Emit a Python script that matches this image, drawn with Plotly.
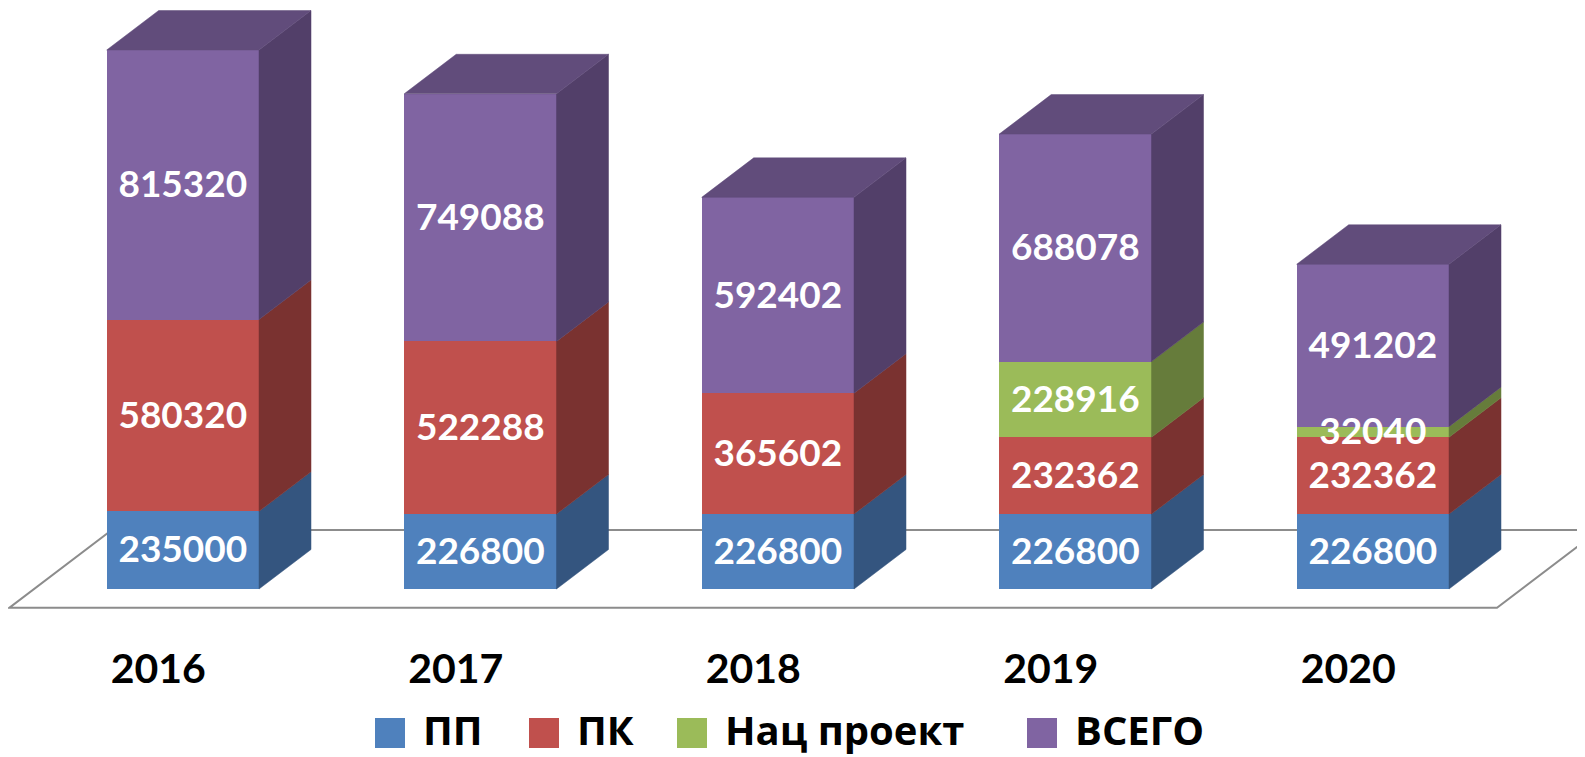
import plotly.graph_objects as go

# ---- data ----
years = ["2016", "2017", "2018", "2019", "2020"]
series_names = ["ПП", "ПК", "Нац проект", "ВСЕГО"]
pp = [235000, 226800, 226800, 226800, 226800]
pk = [580320, 522288, 365602, 232362, 232362]
nac = [0, 0, 0, 228916, 32040]
vsego = [815320, 749088, 592402, 688078, 491202]

front_colors = ["#4F81BD", "#C0504D", "#9BBB59", "#8064A2"]
side_colors = ["#34557F", "#7A3230", "#667C3B", "#523F69"]
top_color = "#614C7B"

# ---- page / projection geometry (layout, not data) ----
PAGE_OFF = 8                 # default body margin of the html page
W, H = 1585 - PAGE_OFF, 757 - PAGE_OFF
PX_PER_X = 297.5
UNITS_PER_PX = 1630640 / 539.0
X0_PX, Y0_PX = 182.85 - PAGE_OFF, 589.0 - PAGE_OFF
x_range = [-X0_PX / PX_PER_X, (W - X0_PX) / PX_PER_X]
y_range = [(Y0_PX - H) * UNITS_PER_PX, Y0_PX * UNITS_PER_PX]
DX = 52.0 / PX_PER_X          # depth offset in x units
DY = 39.5 * UNITS_PER_PX      # depth offset in y units
HW = 0.256                    # half width of the bar front
Z_FRONT, Z_BACK = -0.473, 1.494


def pxp(page_x):
    return (page_x - PAGE_OFF) / W


def pyp(page_y):
    return 1 - (page_y - PAGE_OFF) / H


series = [pp, pk, nac, vsego]
xs = list(range(len(years)))

fig = go.Figure()

# floor
fl = [(-0.5 + Z_FRONT * DX, Z_FRONT * DY), (4.5 + Z_FRONT * DX, Z_FRONT * DY),
      (4.5 + Z_BACK * DX, Z_BACK * DY), (-0.5 + Z_BACK * DX, Z_BACK * DY)]
path = "M " + " L ".join(f"{px},{py}" for px, py in fl) + " Z"
fig.add_shape(type="path", path=path, xref="x", yref="y", layer="below",
              fillcolor="white", line=dict(color="#8C8C8C", width=2))

# front faces as stacked bars
for name, vals, col in zip(series_names, series, front_colors):
    fig.add_trace(go.Bar(x=xs, y=vals, name=name, marker=dict(color=col, line=dict(width=0)),
                         width=2 * HW, hoverinfo="skip", showlegend=False))

# side faces
bases = [0] * len(years)
seg_bounds = []
for k, vals in enumerate(series):
    sx, sy = [], []
    bnds = []
    for i in xs:
        b = bases[i]
        t = b + vals[i]
        bnds.append((b, t))
        if vals[i] > 0:
            xr = i + HW
            sx += [xr, xr + DX, xr + DX, xr, xr, None]
            sy += [b, b + DY, t + DY, t, b, None]
        bases[i] = t
    seg_bounds.append(bnds)
    fig.add_trace(go.Scatter(x=sx, y=sy, fill="toself", mode="lines",
                             fillcolor=side_colors[k], line=dict(color=side_colors[k], width=0.5),
                             showlegend=False, hoverinfo="skip"))

# top faces
tx, ty = [], []
for i in xs:
    T = bases[i]
    tx += [i - HW, i - HW + DX, i + HW + DX, i + HW, i - HW, None]
    ty += [T, T + DY, T + DY, T, T, None]
fig.add_trace(go.Scatter(x=tx, y=ty, fill="toself", mode="lines", fillcolor=top_color,
                         line=dict(color=top_color, width=0.5), showlegend=False, hoverinfo="skip"))

# data labels
LABEL_SHIFT = 3 * UNITS_PER_PX
for k, vals in enumerate(series):
    lx, ly, lt = [], [], []
    for i in xs:
        if vals[i] > 0:
            b, t = seg_bounds[k][i]
            lx.append(i)
            ly.append((b + t) / 2 - LABEL_SHIFT)
            lt.append(str(vals[i]))
    fig.add_trace(go.Scatter(x=lx, y=ly, text=lt, mode="text", textposition="middle center",
                             textfont=dict(family="Lato", size=37, color="white", weight="bold"),
                             showlegend=False, hoverinfo="skip", cliponaxis=False))

# category labels
label_y = (Y0_PX - (673 - PAGE_OFF)) * UNITS_PER_PX
fig.add_trace(go.Scatter(x=[i + Z_FRONT * DX for i in xs], y=[label_y] * len(xs), text=years,
                         mode="text", textposition="middle center",
                         textfont=dict(family="Lato", size=41, color="black", weight="bold"),
                         showlegend=False, hoverinfo="skip", cliponaxis=False))

# legend (squares + text)
sq_left = [375, 529, 677, 1027]
SQ = 30
for name, col, xl in zip(series_names, front_colors, sq_left):
    fig.add_shape(type="rect", xref="paper", yref="paper",
                  x0=pxp(xl), x1=pxp(xl + SQ), y0=pyp(748), y1=pyp(748 - SQ),
                  fillcolor=col, line=dict(width=0))
    fig.add_annotation(x=pxp(xl + SQ + 16), y=pyp(729), xref="paper", yref="paper",
                       text=name, showarrow=False, xanchor="left", yanchor="middle",
                       font=dict(family="Open Sans", size=40, color="black", weight="bold"))

fig.update_layout(
    width=W, height=H, barmode="stack", bargap=0,
    margin=dict(l=0, r=0, t=0, b=0),
    paper_bgcolor="white", plot_bgcolor="white",
    xaxis=dict(range=x_range, visible=False, fixedrange=True),
    yaxis=dict(range=y_range, visible=False, fixedrange=True),
    showlegend=False,
)

fig.write_html("out.html")
